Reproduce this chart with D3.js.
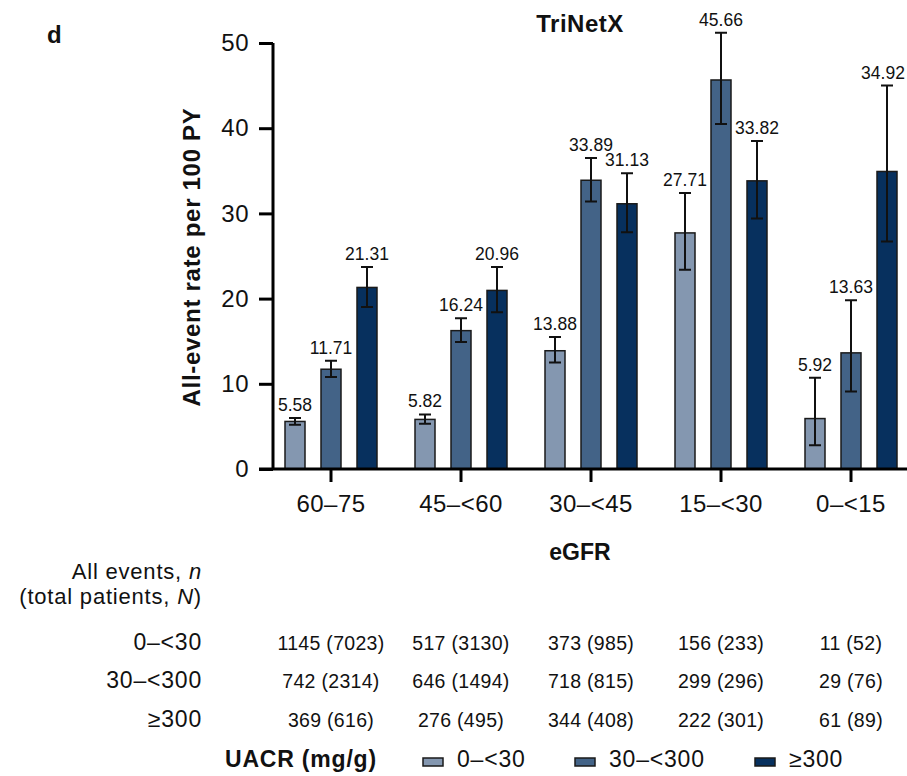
<!DOCTYPE html>
<html>
<head>
<meta charset="utf-8">
<script src="https://cdn.jsdelivr.net/npm/d3@7"></script>
<style>
  body { margin: 0; background: #fff; }
  svg text { font-family: "Liberation Sans", Arial, Helvetica, sans-serif; fill: #111; }
</style>
</head>
<body>
<div id="chart"></div>
<script>
// eGFR groups and UACR series
const groups = ["60–75", "45–<60", "30–<45", "15–<30", "0–<15"];
const series = ["0–<30", "30–<300", "≥300"];
const colors = ["#8497b0", "#436387", "#07305e"];

// all-event rate per 100 PY
const rateLow  = [5.58, 5.82, 13.88, 27.71, 5.92];
const rateMid  = [11.71, 16.24, 33.89, 45.66, 13.63];
const rateHigh = [21.31, 20.96, 31.13, 33.82, 34.92];

// 95% CI
const ciLowLo  = [5.2, 5.3, 12.5, 23.4, 2.8];
const ciLowHi  = [6.0, 6.4, 15.5, 32.4, 10.7];
const ciMidLo  = [10.8, 14.9, 31.4, 40.5, 9.1];
const ciMidHi  = [12.7, 17.7, 36.5, 51.2, 19.8];
const ciHighLo = [19.0, 18.4, 27.8, 29.4, 26.7];
const ciHighHi = [23.7, 23.7, 34.7, 38.5, 45.0];

// events n (total patients N)
const eventsLow  = [1145, 517, 373, 156, 11];
const totalLow   = [7023, 3130, 985, 233, 52];
const eventsMid  = [742, 646, 718, 299, 29];
const totalMid   = [2314, 1494, 815, 296, 76];
const eventsHigh = [369, 276, 344, 222, 61];
const totalHigh  = [616, 495, 408, 301, 89];

const yTicks = [0, 10, 20, 30, 40, 50];

const width = 907, height = 776;
const rates = [rateLow, rateMid, rateHigh];
const ciLo = [ciLowLo, ciMidLo, ciHighLo];
const ciHi = [ciLowHi, ciMidHi, ciHighHi];
const events = [eventsLow, eventsMid, eventsHigh];
const totals = [totalLow, totalMid, totalHigh];

const svg = d3.select("#chart").append("svg")
    .attr("width", width)
    .attr("height", height);

const x = d3.scaleBand().domain(groups).range([266, 916]);
const xSub = d3.scaleBand().domain(series).range([-54, 54]);
const y = d3.scaleLinear().domain([0, 50]).range([469, 43]);
const barW = 20;

const bars = [];
groups.forEach((g, gi) => {
    series.forEach((s, si) => {
        bars.push({g, s, si, v: rates[si][gi], lo: ciLo[si][gi], hi: ciHi[si][gi]});
    });
});
const cx = d => x(d.g) + x.bandwidth() / 2 + xSub(d.s) + xSub.bandwidth() / 2;

// bars
svg.append("g").selectAll("rect")
    .data(bars)
    .join("rect")
    .attr("x", d => cx(d) - barW / 2)
    .attr("y", d => y(d.v))
    .attr("width", barW)
    .attr("height", d => y(0) - y(d.v))
    .attr("fill", d => colors[d.si])
    .attr("stroke", "#1a1a1a")
    .attr("stroke-width", 1.5);

// error bars
const err = svg.append("g").attr("stroke", "#111").attr("stroke-width", 2).attr("fill", "none");
err.selectAll("path")
    .data(bars)
    .join("path")
    .attr("d", d => {
        const c = cx(d), t = y(d.hi), b = y(d.lo);
        return `M${c - 6},${t}H${c + 6}M${c},${t}V${b}M${c - 6},${b}H${c + 6}`;
    });

// value labels (kept inside the right edge)
svg.append("g").selectAll("text")
    .data(bars)
    .join("text")
    .attr("x", d => Math.min(cx(d), width - 24))
    .attr("y", d => y(d.hi) - 7)
    .attr("text-anchor", "middle")
    .attr("font-size", 17.5)
    .text(d => d.v.toFixed(2));

// y axis
const yAxis = svg.append("g")
    .attr("transform", "translate(273,0)")
    .call(d3.axisLeft(y).tickValues(yTicks).tickSize(14).tickPadding(10).tickSizeOuter(0));
yAxis.select(".domain").attr("stroke", "#000").attr("stroke-width", 3)
    .attr("d", `M0,${y(50)}V${y(0)}`);
yAxis.selectAll(".tick line").attr("stroke", "#000").attr("stroke-width", 3);
yAxis.selectAll(".tick text").attr("font-size", 24).attr("fill", "#111")
    .style("letter-spacing", "0.5px")
    .style("font-family", "'Liberation Sans', Arial, sans-serif");

// x axis
const xAxis = svg.append("g")
    .attr("transform", `translate(0,${y(0)})`)
    .call(d3.axisBottom(x).tickSize(13).tickPadding(13).tickSizeOuter(0));
xAxis.select(".domain").attr("stroke", "#000").attr("stroke-width", 3)
    .attr("d", `M259,0H907`);
xAxis.selectAll(".tick line").attr("stroke", "#000").attr("stroke-width", 3);
xAxis.selectAll(".tick text").attr("font-size", 24).attr("fill", "#111")
    .style("letter-spacing", "0.5px")
    .style("font-family", "'Liberation Sans', Arial, sans-serif");

// titles
svg.append("text").attr("x", 47).attr("y", 43)
    .attr("font-size", 24).attr("font-weight", "bold").text("d");
svg.append("text").attr("x", 580).attr("y", 32).attr("text-anchor", "middle")
    .attr("font-size", 24).attr("font-weight", "bold").style("letter-spacing", "0.5px").text("TriNetX");
svg.append("text")
    .attr("transform", "translate(200,257) rotate(-90)")
    .attr("text-anchor", "middle")
    .attr("font-size", 24).attr("font-weight", "bold").style("letter-spacing", "0.7px")
    .text("All-event rate per 100 PY");
svg.append("text").attr("x", 580).attr("y", 560).attr("text-anchor", "middle")
    .attr("font-size", 23).attr("font-weight", "bold").text("eGFR");

// table
const head = svg.append("g").attr("font-size", 22).attr("text-anchor", "end")
    .style("letter-spacing", "0.8px");
head.append("text").attr("x", 202).attr("y", 579)
    .call(t => { t.append("tspan").text("All events, "); t.append("tspan").attr("font-style", "italic").text("n"); });
head.append("text").attr("x", 202).attr("y", 604)
    .call(t => {
        t.append("tspan").text("(total patients, ");
        t.append("tspan").attr("font-style", "italic").text("N");
        t.append("tspan").text(")");
    });

const rowY = [650, 688, 727];
series.forEach((s, si) => {
    head.append("text").attr("x", 202).attr("y", rowY[si])
        .attr("font-size", 23).style("letter-spacing", "0.8px").text(s);
    svg.append("g").selectAll("text")
        .data(groups)
        .join("text")
        .attr("x", g => x(g) + x.bandwidth() / 2)
        .attr("y", rowY[si])
        .attr("text-anchor", "middle")
        .attr("font-size", 19.5)
        .style("letter-spacing", "0.3px")
        .text((g, gi) => `${events[si][gi]} (${totals[si][gi]})`);
});

// legend
const legend = svg.append("g");
legend.append("text").attr("x", 225).attr("y", 767)
    .attr("font-size", 23).attr("font-weight", "bold").style("letter-spacing", "0.8px").text("UACR (mg/g)");
const legX = [423, 575, 755];
series.forEach((s, si) => {
    legend.append("rect").attr("x", legX[si]).attr("y", 758)
        .attr("width", 20).attr("height", 8)
        .attr("fill", colors[si]).attr("stroke", "#1a1a1a").attr("stroke-width", 1.5);
    legend.append("text").attr("x", legX[si] + 34).attr("y", 767)
        .attr("font-size", 23).style("letter-spacing", "0.8px").text(s);
});
</script>
</body>
</html>
